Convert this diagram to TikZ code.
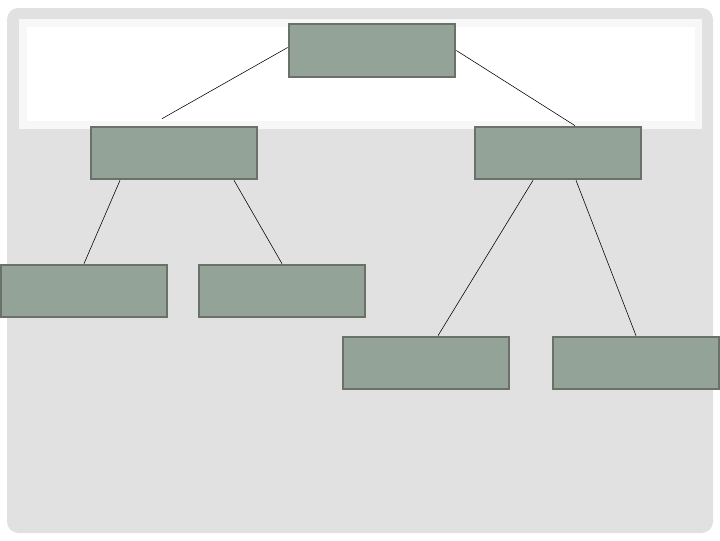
\documentclass[tikz,border=0pt]{standalone}
\usepackage{tikz}
\usetikzlibrary{positioning, calc}
\definecolor{boxfill}{HTML}{94A397}
\definecolor{boxline}{HTML}{6A7168}
\definecolor{slidegray}{HTML}{E1E1E1}
\definecolor{bandline}{HTML}{F7F7F7}
\tikzstyle{box} = [rectangle, draw=boxline, line width=1.6pt, fill=boxfill, minimum width=4.16cm, minimum height=1.31cm]
\tikzstyle{link} = [black, line width=0.4pt]

\begin{document}
\begin{tikzpicture}[x=0.025cm, y=-0.025cm]
        \useasboundingbox (0,0) rectangle (720,540);
        % slide background
        \fill[slidegray, rounded corners=8] (7,8) rectangle (713,533);
        \fill[white, draw=bandline, line width=5pt] (23,23) rectangle (698,125);
        % boxes
        \node[box] (top) at (372,50.5) {};
        \node[box] (left) at (174,153) {};
        \node[box] (right) at (558,153) {};
        \node[box] (leftleft) at (84,291) {};
        \node[box] (leftright) at (282,291) {};
        \node[box] (rightleft) at (426,363) {};
        \node[box] (rightright) at (636,363) {};
        % links
        \coordinate (leftend) at ($(left.north)+(-12,-7)$);
        \draw[link] ($(top.west)+(0,-3)$) -- (leftend);
        \draw[link] (top.east) -- ($(right.north)+(17,0)$);
        \draw[link] ($(left.south)+(-54,0)$) -- (leftleft.north);
        \draw[link] ($(left.south)+(60,0)$) -- (leftright.north);
        \draw[link] ($(right.south)+(-25,0)$) -- ($(rightleft.north)+(12,0)$);
        \draw[link] ($(right.south)+(18,0)$) -- (rightright.north);
    \end{tikzpicture}
\end{document}
